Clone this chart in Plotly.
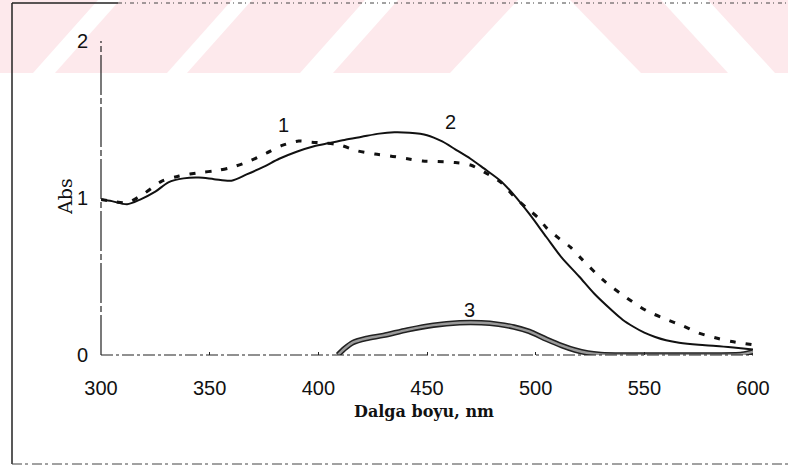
import plotly.graph_objects as go

# Absorption spectra (wavelength in nm, absorbance)
wl_1 = [300, 305, 312, 320, 328, 336, 346, 353, 360, 368, 376, 383, 391, 397,
        403, 410, 418, 426, 433, 441, 448, 455, 463, 470, 477, 484, 490, 496,
        501, 505, 511, 516, 521, 531, 542, 551, 560, 568, 575, 584, 591, 600]
abs_1 = [0.99, 0.98, 0.97, 1.03, 1.107, 1.14, 1.163, 1.174, 1.195, 1.233, 1.285,
         1.333, 1.363, 1.355, 1.35, 1.337, 1.30, 1.28, 1.268, 1.25, 1.235, 1.232,
         1.226, 1.21, 1.16, 1.10, 1.01, 0.935, 0.876, 0.81, 0.74, 0.687, 0.614,
         0.478, 0.363, 0.282, 0.228, 0.184, 0.140, 0.105, 0.084, 0.065]

wl_2 = [300, 305, 312, 318, 325, 331, 338, 345, 352, 360, 367, 375, 382, 390,
        398, 405, 412, 420, 428, 435, 442, 450, 457, 463, 470, 476, 484, 490,
        497, 505, 512, 520, 527, 535, 540, 545, 550, 555, 560, 566, 575, 583,
        591, 600]
abs_2 = [0.99, 0.98, 0.96, 0.99, 1.04, 1.10, 1.125, 1.13, 1.12, 1.11, 1.15, 1.20,
         1.25, 1.295, 1.33, 1.35, 1.37, 1.39, 1.41, 1.418, 1.415, 1.40, 1.36,
         1.31, 1.25, 1.19, 1.107, 1.02, 0.90, 0.75, 0.62, 0.50, 0.39, 0.285,
         0.225, 0.18, 0.142, 0.115, 0.094, 0.078, 0.065, 0.058, 0.048, 0.035]

wl_3 = [409, 412, 416, 422, 430, 441, 453, 465, 475, 483, 490, 497, 505, 512,
        518, 524, 530, 540, 560, 580, 595, 600]
abs_3 = [0.0, 0.04, 0.08, 0.105, 0.125, 0.160, 0.19, 0.205, 0.205, 0.195, 0.178,
         0.15, 0.10, 0.06, 0.032, 0.013, 0.004, 0.0, 0.0, 0.0, 0.005, 0.02]

x_ticks = [300, 350, 400, 450, 500, 550, 600]
y_ticks = [0, 1, 2]

curve_labels = ["1", "2", "3"]
label_pos = [(383.8, 1.465), (460.6, 1.484), (469.4, 0.287)]

# plot area in pixels
L, R, T, B = 101, 753, 41, 355
W, H = 788, 469


def px(x):
    return (x - L) / (R - L)


def py(y):
    return (B - y) / (B - T)


fig = go.Figure()

fig.add_trace(go.Scatter(x=wl_2, y=abs_2, mode="lines",
                         line=dict(color="#111", width=2, shape="spline", smoothing=0.8),
                         hoverinfo="skip", showlegend=False))
fig.add_trace(go.Scatter(x=wl_1, y=abs_1, mode="lines",
                         line=dict(color="#111", width=3, dash="6px,10px",
                                   shape="spline", smoothing=0.8),
                         hoverinfo="skip", showlegend=False))
# curve 3: grey band with dark edges
fig.add_trace(go.Scatter(x=wl_3, y=abs_3, mode="lines",
                         line=dict(color="#222", width=5.5, shape="spline", smoothing=0.8),
                         hoverinfo="skip", showlegend=False))
fig.add_trace(go.Scatter(x=wl_3, y=abs_3, mode="lines",
                         line=dict(color="#9a9a9a", width=2.4, shape="spline", smoothing=0.8),
                         hoverinfo="skip", showlegend=False))

shapes = []

# pale pink chevron band across the top
pink = "#fde9ec"
band = [
    [(0, 73), (33, 73), (98, 0), (0, 0)],
    [(55, 73), (167, 73), (232, 0), (120, 0)],
    [(187, 73), (300, 73), (365, 0), (252, 0)],
    [(333, 73), (450, 73), (518, 0), (398, 0)],
    [(641, 73), (728, 73), (661, 0), (570, 0)],
    [(775, 73), (788, 73), (788, 0), (708, 0)],
]
for poly in band:
    path = "M " + " L ".join(f"{px(a):.5f},{py(b):.5f}" for a, b in poly) + " Z"
    shapes.append(dict(type="path", xref="paper", yref="paper", path=path,
                       fillcolor=pink, line=dict(width=0), layer="below"))

# page frame
frame = dict(xref="paper", yref="paper", type="line")
shapes.append(dict(frame, x0=px(12), x1=px(12), y0=py(3), y1=py(464),
                   line=dict(color="#222", width=1.5)))
shapes.append(dict(frame, x0=px(12), x1=px(118), y0=py(3), y1=py(3),
                   line=dict(color="#222", width=1.5)))
shapes.append(dict(frame, x0=px(118), x1=px(788), y0=py(3), y1=py(3),
                   line=dict(color="#444", width=1, dash="4px,3px,1px,4px")))
shapes.append(dict(frame, x0=px(12), x1=px(788), y0=py(464), y1=py(464),
                   line=dict(color="#444", width=1, dash="10px,3px,3px,4px")))

# axis lines
shapes.append(dict(frame, x0=0, x1=0, y0=0, y1=1,
                   line=dict(color="#222", width=1.2, dash="40px,3px,6px,3px")))
shapes.append(dict(frame, x0=0, x1=1, y0=0, y1=0,
                   line=dict(color="#222", width=1.2, dash="12px,3px,3px,3px")))

annotations = []
for txt, (xv, yv) in zip(curve_labels, label_pos):
    annotations.append(dict(x=xv, y=yv, xref="x", yref="y", text=txt, showarrow=False,
                            font=dict(family="Liberation Sans", size=20, color="#111")))

annotations.append(dict(x=px(424), y=py(423), xref="paper", yref="paper",
                        text="<b>Dalga boyu, nm</b>", showarrow=False,
                        font=dict(family="DejaVu Serif", size=16, color="#111")))
annotations.append(dict(x=px(52), y=py(197), xref="paper", yref="paper",
                        text="Abs", textangle=-90, showarrow=False,
                        font=dict(family="DejaVu Serif", size=19, color="#111")))

fig.update_layout(
    width=W, height=H,
    margin=dict(l=L, r=W - R, t=T, b=H - B),
    paper_bgcolor="white", plot_bgcolor="rgba(0,0,0,0)",
    shapes=shapes, annotations=annotations,
    xaxis=dict(range=[300, 600], tickvals=x_ticks, ticks="inside", ticklen=3,
               tickcolor="#222", showgrid=False, zeroline=False, showline=False,
               ticklabelstandoff=19,
               tickfont=dict(family="Liberation Sans", size=20, color="#111")),
    yaxis=dict(range=[0, 2], tickvals=y_ticks, ticks="", showgrid=False,
               zeroline=False, showline=False, ticklabelstandoff=12,
               tickfont=dict(family="Liberation Sans", size=20, color="#111")),
)

fig.write_html("out.html")
